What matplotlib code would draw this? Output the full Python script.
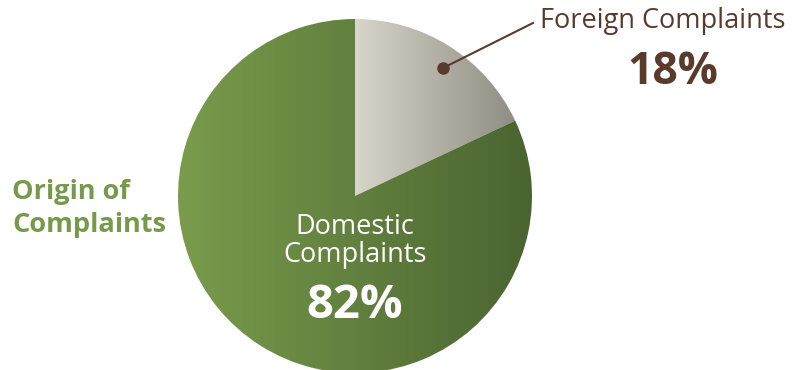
import numpy as np
import matplotlib.pyplot as plt
from matplotlib.colors import LinearSegmentedColormap

# data
labels = ["Foreign Complaints", "Domestic Complaints"]
shares = [18, 82]
title_lines = ["Origin of", "Complaints"]

green = "#76994a"
brown = "#5a3a2c"
grads = [("#d8d5c9", "#8f8e84"), ("#7a9c4c", "#4a6431")]

W, H = 802, 370
fig = plt.figure(figsize=(W / 100, H / 100), dpi=100)
ax = fig.add_axes([0, 0, 1, 1])

cx, cy, r = 355, 174, 177
wedges, _ = ax.pie(shares, center=(cx, cy), radius=r, startangle=90,
                   counterclock=False, frame=True,
                   wedgeprops=dict(linewidth=0))

# fill each wedge with a left-to-right gradient
for w, (c0, c1) in zip(wedges, grads):
    w.set_facecolor("none")
    bb = w.get_path().get_extents(w.get_patch_transform())
    cmap = LinearSegmentedColormap.from_list("g", [c0, c1])
    grad = np.linspace(0, 1, 256).reshape(1, -1)
    im = ax.imshow(grad, cmap=cmap, aspect="auto",
                   extent=[bb.x0, bb.x1, bb.y0, bb.y1], zorder=1)
    im.set_clip_path(w)

ax.set_xlim(0, W)
ax.set_ylim(0, H)
ax.set_aspect("equal")
ax.axis("off")

font = "Open Sans"

# left title
ax.text(12, H - 192, title_lines[0], color=green, fontsize=19.5, fontweight="bold",
        family=font, ha="left", va="center")
ax.text(12, H - 225, title_lines[1], color=green, fontsize=19.5, fontweight="bold",
        family=font, ha="left", va="center")

# domestic label inside slice
ax.text(355, H - 227, "Domestic", color="white", fontsize=19.5, family=font,
        ha="center", va="center")
ax.text(355, H - 255, "Complaints", color="white", fontsize=19.5, family=font,
        ha="center", va="center")
ax.text(355, H - 306, f"{shares[1]}%", color="white", fontsize=34, family=font,
        fontweight="bold", ha="center", va="center")

# foreign label with leader line
ax.plot([443, 533], [H - 68, H - 23], color=brown, lw=1.5, zorder=3)
ax.plot([443], [H - 68], "o", color=brown, ms=8, zorder=3)
ax.text(663, H - 21, labels[0], color=brown, fontsize=19.5, family=font,
        ha="center", va="center")
ax.text(673, H - 72, f"{shares[0]}%", color=brown, fontsize=32, family=font,
        fontweight="bold", ha="center", va="center")

fig.savefig("out.png", dpi=100)
